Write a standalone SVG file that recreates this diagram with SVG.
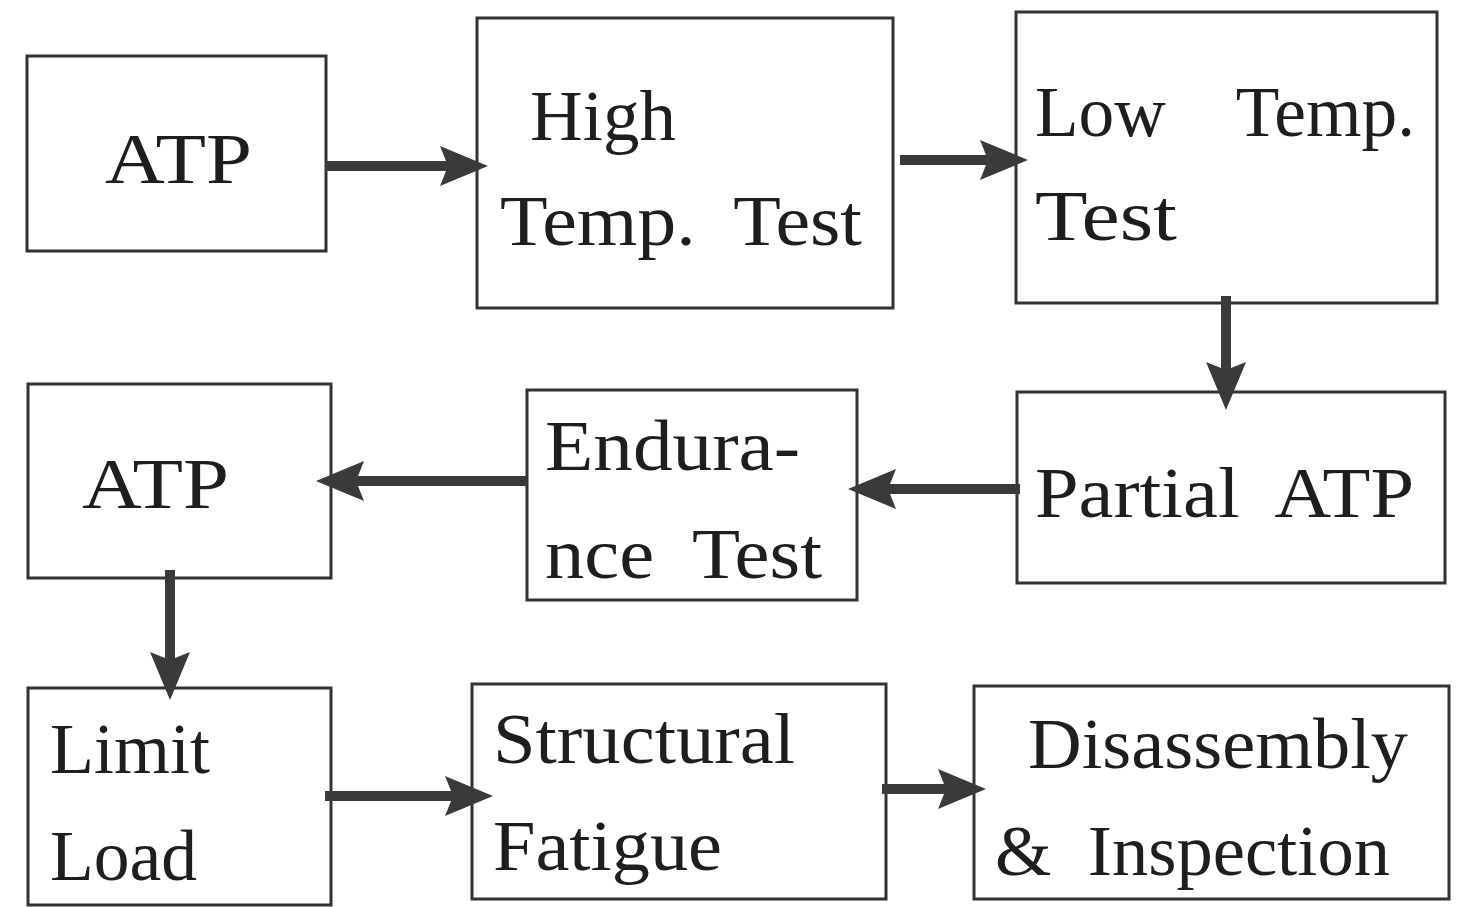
<svg xmlns="http://www.w3.org/2000/svg" width="1463" height="907" viewBox="0 0 1463 907">
<style>
.box{fill:#fff;stroke:#333;stroke-width:3}
.t{font-family:"Liberation Serif","Times New Roman",serif;font-size:72px;fill:#1e1e1e;white-space:pre}
.ar{stroke:#3a3a3a;stroke-width:10;fill:none;marker-end:url(#ah)}
</style>
<defs>
<marker id="ah" markerUnits="userSpaceOnUse" viewBox="0 0 48 40" refX="8" refY="20" markerWidth="48" markerHeight="40" orient="auto">
<path d="M0,0 L48,20 L0,40 L8,20 Z" fill="#3a3a3a"/>
</marker>
</defs>
<rect width="1463" height="907" fill="#fff"/>
<g id="n1"><rect class="box" x="27" y="56" width="299" height="195"/><text class="t" x="105" y="183" textLength="147" lengthAdjust="spacingAndGlyphs">ATP</text></g>
<g id="n2"><rect class="box" x="477" y="18" width="416" height="290"/><text class="t" x="530" y="140" textLength="146" lengthAdjust="spacingAndGlyphs">High</text><text class="t" x="500" y="245" textLength="362" lengthAdjust="spacingAndGlyphs">Temp.  Test</text></g>
<g id="n3"><rect class="box" x="1016" y="12" width="421" height="291"/><text class="t" x="1035" y="136" textLength="380" lengthAdjust="spacingAndGlyphs">Low    Temp.</text><text class="t" x="1035" y="240" textLength="142" lengthAdjust="spacingAndGlyphs">Test</text></g>
<g id="n4"><rect class="box" x="1017" y="392" width="428" height="191"/><text class="t" x="1035" y="517" textLength="379" lengthAdjust="spacingAndGlyphs">Partial  ATP</text></g>
<g id="n5"><rect class="box" x="527" y="390" width="330" height="210"/><text class="t" x="545" y="470" textLength="255" lengthAdjust="spacingAndGlyphs">Endura-</text><text class="t" x="545" y="578" textLength="277" lengthAdjust="spacingAndGlyphs">nce  Test</text></g>
<g id="n6"><rect class="box" x="28" y="384" width="303" height="194"/><text class="t" x="82" y="508" textLength="147" lengthAdjust="spacingAndGlyphs">ATP</text></g>
<g id="n7"><rect class="box" x="28" y="688" width="303" height="217"/><text class="t" x="50" y="773" textLength="160" lengthAdjust="spacingAndGlyphs">Limit</text><text class="t" x="50" y="880" textLength="147" lengthAdjust="spacingAndGlyphs">Load</text></g>
<g id="n8"><rect class="box" x="472" y="684" width="414" height="215"/><text class="t" x="493" y="763" textLength="302" lengthAdjust="spacingAndGlyphs">Structural</text><text class="t" x="493" y="870" textLength="229" lengthAdjust="spacingAndGlyphs">Fatigue</text></g>
<g id="n9"><rect class="box" x="974" y="686" width="475" height="213"/><text class="t" x="1028" y="768" textLength="380" lengthAdjust="spacingAndGlyphs">Disassembly</text><text class="t" x="995" y="875" textLength="395" lengthAdjust="spacingAndGlyphs">&amp;  Inspection</text></g>
<g id="connectors">
<path class="ar" d="M325,166 L448,166"/>
<path class="ar" d="M900,160 L988,160"/>
<path class="ar" d="M1226,296 L1226,370"/>
<path class="ar" d="M1020,489 L888,489"/>
<path class="ar" d="M527,481 L356,481"/>
<path class="ar" d="M170,570 L170,660"/>
<path class="ar" d="M325,796 L453,796"/>
<path class="ar" d="M882,789 L946,789"/>
</g>
</svg>
